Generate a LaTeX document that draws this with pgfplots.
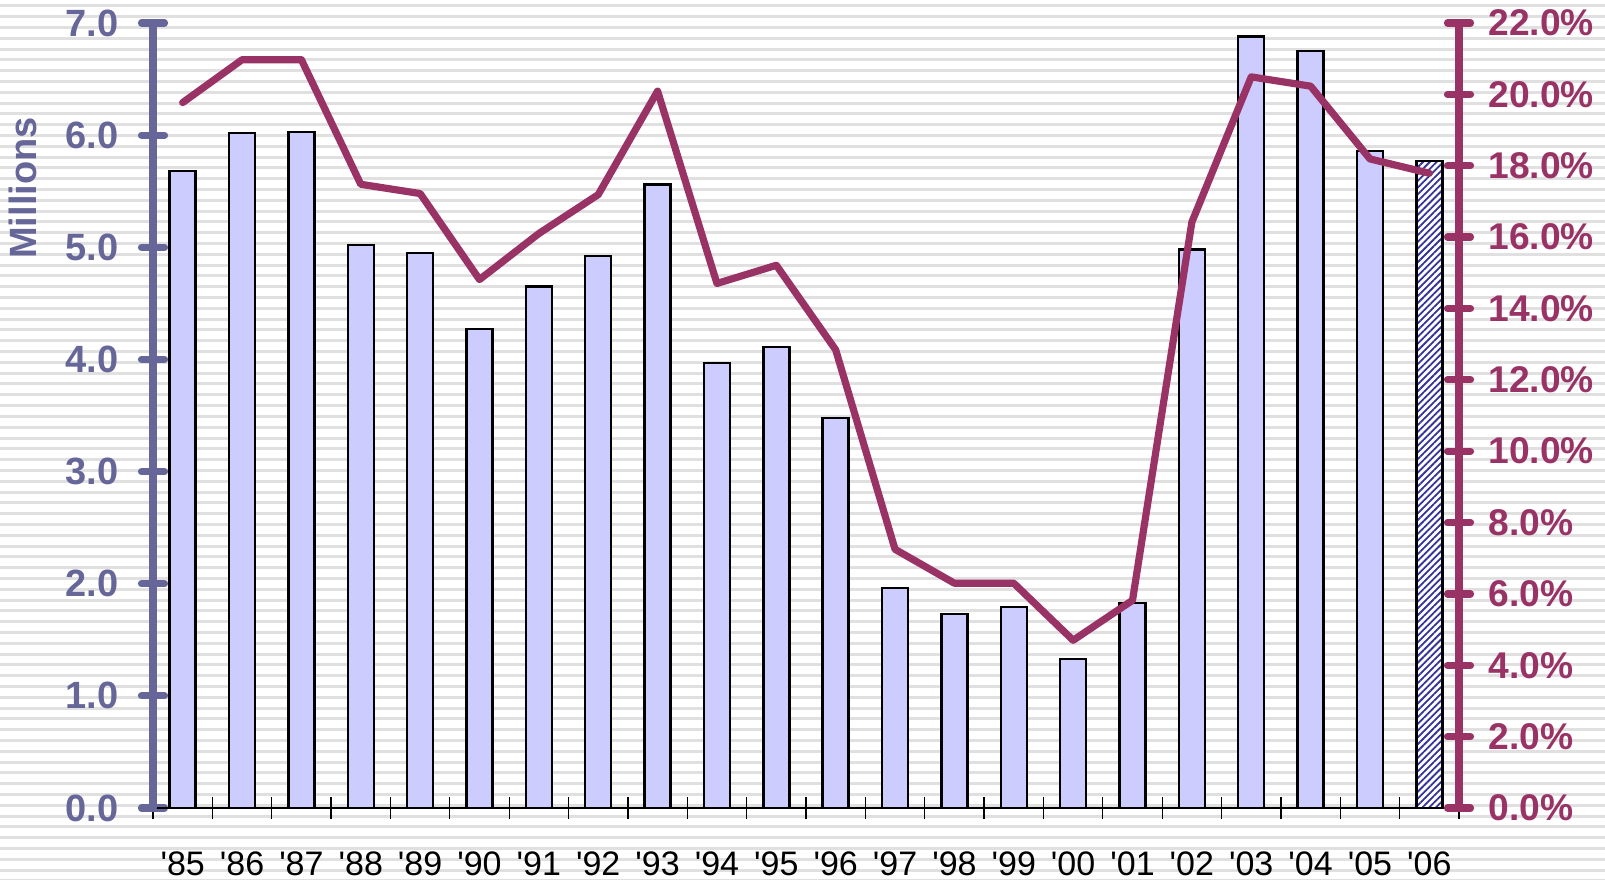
\documentclass[border=0pt]{standalone}
\usepackage{fontspec}
\setmainfont{Liberation Sans}
\usepackage{pgfplots}
\pgfplotsset{compat=1.18}
\usetikzlibrary{patterns.meta}
\definecolor{leftc}{HTML}{666699}
\definecolor{rightc}{HTML}{993366}
\definecolor{barc}{HTML}{CCCCFF}
\definecolor{hatchc}{HTML}{333399}
\definecolor{stripe}{HTML}{E0E0E0}

\pgfplotstableread{
x y
0 5.68
1 6.02
2 6.03
3 5.02
4 4.95
5 4.27
6 4.65
7 4.92
8 5.56
9 3.97
10 4.11
11 3.48
12 1.96
13 1.73
14 1.79
15 1.33
16 1.83
17 4.98
18 6.88
19 6.75
20 5.86
}\bars
\pgfplotstableread{
x y
21 5.77
}\lastbar
\pgfplotstableread{
x y
0 19.77
1 20.97
2 20.97
3 17.48
4 17.22
5 14.81
6 16.10
7 17.19
8 20.09
9 14.70
10 15.21
11 12.84
12 7.25
13 6.30
14 6.30
15 4.70
16 5.82
17 16.42
18 20.49
19 20.23
20 18.19
21 17.79
}\rate

\begin{document}
\begin{tikzpicture}
\path[use as bounding box] (-76.5pt,-35.5pt) rectangle (726pt,404pt);
\foreach \i in {0,...,81} {
  \draw[stripe, line width=1.5pt] (-76.5pt,{401pt-\i*5.4pt}) -- (726pt,{401pt-\i*5.4pt});
}
\begin{axis}[
  at={(0,0)}, anchor=south west,
  scale only axis, width=653pt, height=392.5pt,
  xmin=-0.5, xmax=21.5, ymin=0, ymax=7,
  axis y line*=left, axis x line*=bottom,
  xtick={0,...,21},
  xticklabels={{\textquotesingle85},{\textquotesingle86},{\textquotesingle87},{\textquotesingle88},{\textquotesingle89},{\textquotesingle90},{\textquotesingle91},{\textquotesingle92},{\textquotesingle93},{\textquotesingle94},{\textquotesingle95},{\textquotesingle96},{\textquotesingle97},{\textquotesingle98},{\textquotesingle99},{\textquotesingle00},{\textquotesingle01},{\textquotesingle02},{\textquotesingle03},{\textquotesingle04},{\textquotesingle05},{\textquotesingle06}},
  xticklabel style={font=\fontsize{17}{19}\selectfont, text=black, anchor=north, inner sep=0pt, yshift=-16pt},
  major x tick style={draw=none},
  minor xtick={-0.5,0.5,...,21.5},
  minor x tick style={black, line width=0.6pt},
  minor tick length=11pt,
  x axis line style={black, line width=0.6pt},
  ytick={0,...,7},
  yticklabel={\pgfmathprintnumber[fixed,fixed zerofill,precision=1]{\tick}},
  /pgf/number format/assume math mode=true,
  yticklabel style={font=\bfseries\fontsize{19}{21}\selectfont, text=leftc, anchor=east, xshift=-8pt},
  y axis line style={leftc, line width=3.6pt, line cap=round},
  major y tick style={leftc, line width=3.6pt, line cap=round},
  major tick length=11.5pt,
  tick align=center,
  clip=false,
]
\addplot[ybar, bar width=13pt, bar shift=0pt, fill=barc, draw=black, line width=1.2pt] table[x=x,y=y] {\bars};
\addplot[ybar, bar width=13pt, bar shift=0pt, fill=white, draw=black, line width=1.2pt,
  postaction={pattern={Lines[angle=45,distance=2.4pt,line width=0.9pt]}, pattern color=hatchc}] table[x=x,y=y] {\lastbar};
\node[rotate=90, font=\bfseries\fontsize{19}{21}\selectfont, text=leftc] at (axis cs:-2.69,5.529) {Millions};
\end{axis}
\begin{axis}[
  at={(0,0)}, anchor=south west,
  scale only axis, width=653pt, height=392.5pt,
  xmin=-0.5, xmax=21.5, ymin=0, ymax=22,
  axis y line*=right, axis x line=none,
  ytick={0,2,...,22},
  yticklabel={\pgfmathprintnumber[fixed,fixed zerofill,precision=1]{\tick}\%},
  /pgf/number format/assume math mode=true,
  yticklabel style={font=\bfseries\fontsize{18.6}{21}\selectfont, text=rightc, anchor=west, xshift=5.5pt},
  y axis line style={rightc, line width=3.6pt, line cap=round},
  major y tick style={rightc, line width=3.6pt, line cap=round},
  major tick length=11.5pt,
  tick align=center,
  clip=false,
]
\addplot[rightc, line width=3.6pt, line join=round, line cap=round] table[x=x,y=y] {\rate};
\end{axis}
\end{tikzpicture}
\end{document}
